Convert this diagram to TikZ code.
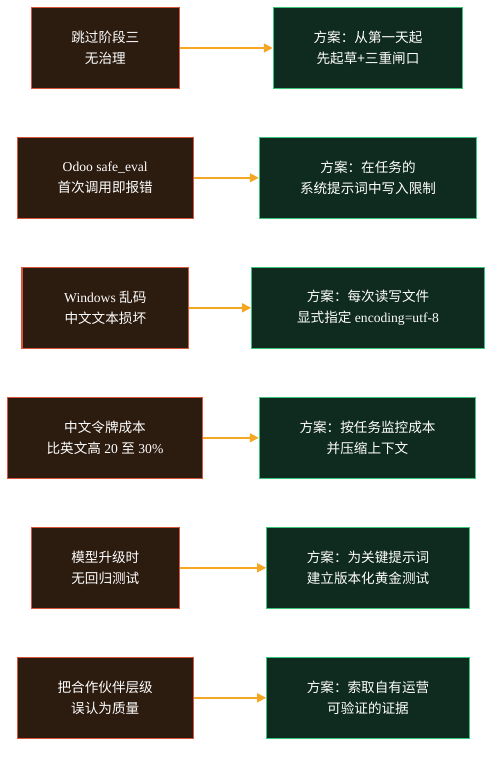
\documentclass[tikz,border=0pt]{standalone}
\usepackage{fontspec}
\setmainfont{Liberation Serif}
\newfontfamily\cjk{Noto Sans CJK SC}
\usetikzlibrary{arrows.meta}
\definecolor{probfill}{HTML}{2C1B0F}
\definecolor{probedge}{HTML}{D9543A}
\definecolor{solfill}{HTML}{0F2A1E}
\definecolor{soledge}{HTML}{3CC47A}
\definecolor{arrowc}{HTML}{F5A623}
\tikzset{
  probbox/.style={draw=probedge, fill=probfill, line width=1.1pt, inner sep=0pt},
  solbox/.style={draw=soledge, fill=solfill, line width=1.1pt, inner sep=0pt},
  txt/.style={text=white, align=center, font=\fontsize{13.6}{20.6}\selectfont},
  flow/.style={draw=arrowc, line width=1.5pt, -{Triangle[length=9pt,width=9pt]}}
}
\begin{document}
\begin{tikzpicture}[x=1pt,y=-1pt]
\useasboundingbox (0,0) rectangle (500,758);
% row 1
\node[probbox, minimum width=148pt, minimum height=81.4pt] (p1) at (105.3,48) {};
\node[txt] (p1t) at (p1) {\cjk 跳过阶段三\\\cjk 无治理};
\node[solbox, minimum width=189.4pt, minimum height=81.4pt] (s1) at (368,48) {};
\node[txt] (s1t) at (s1) {\cjk 方案：从第一天起\\\cjk 先起草+三重闸口};
\draw[flow] (p1.east) -- (s1.west);
% row 2
\node[probbox, minimum width=175.7pt, minimum height=81pt] (p2) at (105.2,177.8) {};
\node[txt] (p2t) at (p2) {Odoo safe\_eval\\\cjk 首次调用即报错};
\node[solbox, minimum width=217.4pt, minimum height=81pt] (s2) at (368,177.8) {};
\node[txt] (s2t) at (s2) {\cjk 方案：在任务的\\\cjk 系统提示词中写入限制};
\draw[flow] (p2.east) -- (s2.west);
% row 3
\node[probbox, minimum width=166.7pt, minimum height=81pt] (p3) at (105.3,307.8) {};
\node[txt] (p3t) at (p3) {Windows {\cjk 乱码}\\\cjk 中文文本损坏};
\node[solbox, minimum width=232.6pt, minimum height=81pt] (s3) at (368,307.8) {};
\node[txt] (s3t) at (s3) {\cjk 方案：每次读写文件\\{\cjk 显式指定} encoding=utf-8};
\draw[flow] (p3.east) -- (s3.west);
% row 4
\node[probbox, minimum width=195.4pt, minimum height=81pt] (p4) at (105,437.8) {};
\node[txt] (p4t) at (p4) {\cjk 中文令牌成本\\{\cjk 比英文高} 20 {\cjk 至} 30\%};
\node[solbox, minimum width=216.4pt, minimum height=81pt] (s4) at (367.5,437.8) {};
\node[txt] (s4t) at (s4) {\cjk 方案：按任务监控成本\\\cjk 并压缩上下文};
\draw[flow] (p4.east) -- (s4.west);
% row 5
\node[probbox, minimum width=148pt, minimum height=81pt] (p5) at (105.3,567.8) {};
\node[txt] (p5t) at (p5) {\cjk 模型升级时\\\cjk 无回归测试};
\node[solbox, minimum width=202.6pt, minimum height=81pt] (s5) at (368,567.8) {};
\node[txt] (s5t) at (s5) {\cjk 方案：为关键提示词\\\cjk 建立版本化黄金测试};
\draw[flow] (p5.east) -- (s5.west);
% row 6
\node[probbox, minimum width=175.7pt, minimum height=81pt] (p6) at (105.2,697.8) {};
\node[txt] (p6t) at (p6) {\cjk 把合作伙伴层级\\\cjk 误认为质量};
\node[solbox, minimum width=202.6pt, minimum height=81pt] (s6) at (368,697.8) {};
\node[txt] (s6t) at (s6) {\cjk 方案：索取自有运营\\\cjk 可验证的证据};
\draw[flow] (p6.east) -- (s6.west);
\end{tikzpicture}
\end{document}
